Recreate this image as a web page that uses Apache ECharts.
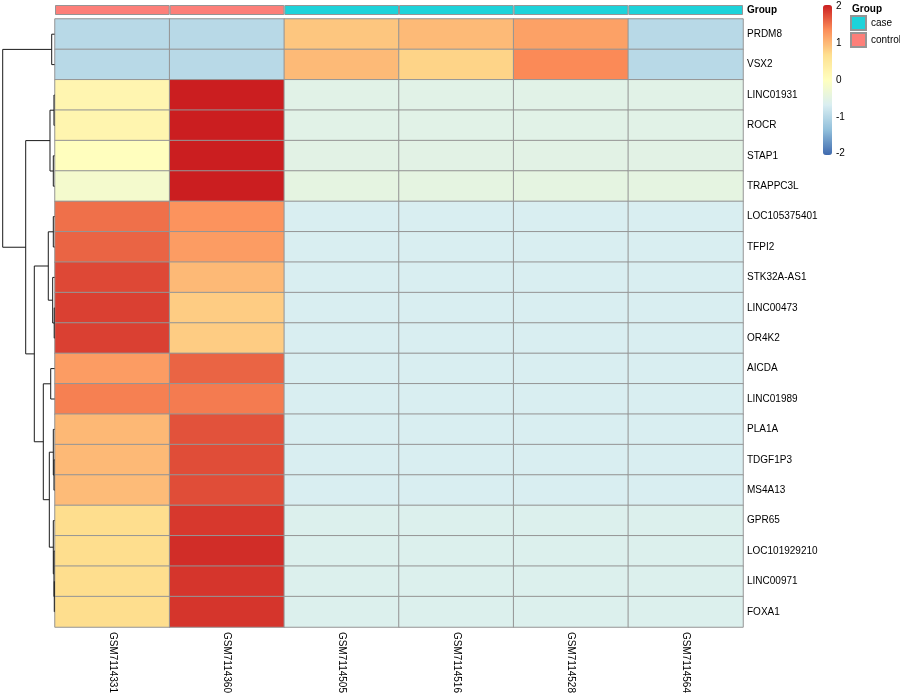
<!DOCTYPE html>
<html><head><meta charset="utf-8">
<script src="https://cdn.jsdelivr.net/npm/echarts@6/dist/echarts.min.js"></script>
<style>html,body{margin:0;padding:0;background:#fff}#c{width:900px;height:700px}</style>
</head><body><div id="c"></div>
<script>
// ---- data ----
const genes = ['PRDM8','VSX2','LINC01931','ROCR','STAP1','TRAPPC3L','LOC105375401','TFPI2','STK32A-AS1','LINC00473','OR4K2','AICDA','LINC01989','PLA1A','TDGF1P3','MS4A13','GPR65','LOC101929210','LINC00971','FOXA1'];
const samples = ['GSM7114331','GSM7114360','GSM7114505','GSM7114516','GSM7114528','GSM7114564'];
const groups = ['control','control','case','case','case','case'];
const GSM7114331 = [-0.99,-0.99,0.22,0.23,0.02,-0.19,1.54,1.61,1.78,1.83,1.83,1.24,1.44,1.01,1.0,0.98,0.7,0.7,0.7,0.7];
const GSM7114360 = [-0.99,-0.99,2.04,2.04,2.04,2.04,1.31,1.24,1.0,0.84,0.84,1.61,1.47,1.72,1.75,1.75,1.88,1.95,1.9,1.9];
const GSM7114505 = [0.89,0.99,-0.54,-0.54,-0.52,-0.46,-0.68,-0.68,-0.68,-0.68,-0.68,-0.68,-0.68,-0.68,-0.68,-0.68,-0.62,-0.62,-0.62,-0.62];
const GSM7114516 = [0.99,0.78,-0.54,-0.54,-0.52,-0.46,-0.68,-0.68,-0.68,-0.68,-0.68,-0.68,-0.68,-0.68,-0.68,-0.68,-0.62,-0.62,-0.62,-0.62];
const GSM7114528 = [1.2,1.38,-0.54,-0.54,-0.52,-0.46,-0.68,-0.68,-0.68,-0.68,-0.68,-0.68,-0.68,-0.68,-0.68,-0.68,-0.62,-0.62,-0.62,-0.62];
const GSM7114564 = [-0.99,-0.99,-0.54,-0.54,-0.52,-0.46,-0.68,-0.68,-0.68,-0.68,-0.68,-0.68,-0.68,-0.68,-0.68,-0.68,-0.62,-0.62,-0.62,-0.62];
const colorTicks = [-2,-1,0,1,2];
// row dendrogram merges (hclust style: negative = leaf number, positive = earlier merge), height
const merges = [
  [-19,-20,0.04],[-10,-11,0.06],[-3,-4,0.1],[-15,-16,0.1],[-18,1,0.1],
  [-5,-6,0.23],[-7,-8,0.23],[-14,4,0.23],[-17,5,0.23],[-9,2,0.35],
  [-1,-2,0.54],[-12,-13,0.73],[3,6,0.87],[8,9,1.0],[7,10,1.2],
  [12,14,2.16],[15,16,3.9],[13,17,5.56],[11,18,10]
];

// ---- build ----
const valueCols = [GSM7114331,GSM7114360,GSM7114505,GSM7114516,GSM7114528,GSM7114564];
const heatData = [];
valueCols.forEach((col, ci) => col.forEach((v, ri) => heatData.push([ci, ri, v])));
const controlBar = groups.map(g => g === 'control' ? 1 : '-');
const caseBar = groups.map(g => g === 'case' ? 1 : '-');

const nodePos = [], nodeH = [];
const dendroData = merges.map((m, i) => {
  const info = m.slice(0,2).map(id => id < 0 ? [-id - 0.5, 0] : [nodePos[id-1], nodeH[id-1]]);
  nodePos[i] = (info[0][0] + info[1][0]) / 2; nodeH[i] = m[2];
  return [info[0][1], info[0][0], info[1][1], info[1][0], m[2]];
});

const FONT = 'Liberation Sans, Arial, Helvetica, sans-serif';
const L = 55, R = 157;
const chart = echarts.init(document.getElementById('c'), null, {renderer:'canvas'});
chart.setOption({
  backgroundColor:'#fff',
  animation:false,
  textStyle:{fontFamily:FONT},
  grid:[
    {left:L, right:R, top:19, height:608},          // heatmap
    {left:L, right:R, top:5, height:10},            // annotation
    {left:2.7, width:51.8, top:19, height:608},     // dendrogram
    {left:831, width:1, top:6.5, height:147}        // colour bar labels
  ],
  xAxis:[
    {type:'category', gridIndex:0, data:samples, position:'bottom', axisLine:{show:false}, axisTick:{show:false},
     axisLabel:{rotate:-90, margin:5, fontSize:10, color:'#000', fontFamily:FONT}},
    {type:'category', gridIndex:1, data:samples, show:false},
    {type:'value', gridIndex:2, min:0, max:10, inverse:true, show:false},
    {type:'value', gridIndex:3, show:false, min:0, max:1}
  ],
  yAxis:[
    {type:'category', gridIndex:0, data:genes, inverse:true, position:'right', axisLine:{show:false}, axisTick:{show:false},
     axisLabel:{margin:4, fontSize:10, color:'#000', fontFamily:FONT}},
    {type:'value', gridIndex:1, min:0, max:1, show:false},
    {type:'value', gridIndex:2, min:0, max:20, inverse:true, show:false},
    {type:'value', gridIndex:3, min:-2, max:2, interval:1, position:'right',
     axisLine:{show:false}, axisTick:{show:false}, splitLine:{show:false},
     axisLabel:{margin:4, fontSize:10, color:'#000', fontFamily:FONT}}
  ],
  visualMap:{
    type:'continuous', seriesIndex:0, min:-2.04, max:2.04, calculable:false, hoverLink:false,
    text:null, showLabel:false, left:823, top:5, itemWidth:9, itemHeight:150, padding:0,
    inRange:{color:['#3F6AAE','#91BFDB','#D9EEF1','#FFFFBF','#FEE090','#FC8D59','#CB1E20']}
  },
  legend:{
    data:['case','control'], orient:'vertical', left:850, top:15, padding:0, itemWidth:15, itemHeight:14, itemGap:1,
    icon:'rect', textStyle:{fontSize:10, color:'#000', fontFamily:FONT}, selectedMode:false
  },
  graphic:[
    {type:'text', left:852, top:4, style:{text:'Group', font:'bold 10px '+FONT, fill:'#000'}},
    {type:'text', left:747, top:5, style:{text:'Group', font:'bold 10px '+FONT, fill:'#000'}}
  ],
  series:[
    {type:'heatmap', xAxisIndex:0, yAxisIndex:0, data:heatData,
     itemStyle:{borderColor:'#959595', borderWidth:1}, emphasis:{disabled:true}},
    {type:'bar', name:'control', xAxisIndex:1, yAxisIndex:1, data:controlBar, barWidth:'100%', barGap:'-100%',
     itemStyle:{color:'#FD7F79', borderColor:'#959595', borderWidth:1}, emphasis:{disabled:true}},
    {type:'bar', name:'case', xAxisIndex:1, yAxisIndex:1, data:caseBar, barWidth:'100%', barGap:'-100%',
     itemStyle:{color:'#1DD3DA', borderColor:'#959595', borderWidth:1}, emphasis:{disabled:true}},
    {type:'custom', xAxisIndex:2, yAxisIndex:2, data:dendroData, encode:{x:[0,2,4], y:[1,3]},
     renderItem:(params, api) => {
       const a = api.coord([api.value(0), api.value(1)]);
       const b = api.coord([api.value(4), api.value(1)]);
       const c = api.coord([api.value(4), api.value(3)]);
       const d = api.coord([api.value(2), api.value(3)]);
       return {type:'polyline', shape:{points:[a,b,c,d]}, style:{stroke:'#1a1a1a', lineWidth:1, fill:null}};
     }}
  ]
});
</script></body></html>
